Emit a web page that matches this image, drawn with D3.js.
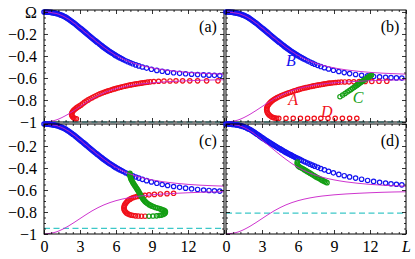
<!DOCTYPE html>
<html>
<head>
<meta charset="utf-8">
<script src="https://cdnjs.cloudflare.com/ajax/libs/d3/7.8.5/d3.min.js"></script>
<style>
  body { margin: 0; background: #fff; }
  svg { display: block; }
  svg text { font-family: "Liberation Serif", serif; }
</style>
</head>
<body>
<svg width="415" height="259"></svg>
<script>
// ---------------- data ----------------
// thin magenta reference curves (same in all four panels)
const magL = [0, 1, 2, 3, 4, 5, 6, 7, 8, 9, 10, 11, 12, 13, 14, 15];
const magUp = [0, -0.013, -0.062, -0.145, -0.236, -0.322, -0.395, -0.447, -0.483, -0.508, -0.526, -0.539, -0.549, -0.556, -0.561, -0.565];
const magLow = [-1, -0.982, -0.93, -0.86, -0.79, -0.735, -0.697, -0.672, -0.655, -0.644, -0.636, -0.63, -0.625, -0.621, -0.618, -0.616];

// blue branch B: dense head (L 0..6) and sparser tail
const headL = [0, 0.1, 0.2, 0.3, 0.4, 0.5, 0.6, 0.7, 0.8, 0.9, 1, 1.1, 1.2, 1.3, 1.4, 1.5, 1.6, 1.7, 1.8, 1.9,
  2, 2.1, 2.2, 2.3, 2.4, 2.5, 2.6, 2.7, 2.8, 2.9, 3, 3.1, 3.2, 3.3, 3.4, 3.5, 3.6, 3.7, 3.8, 3.9,
  4, 4.1, 4.2, 4.3, 4.4, 4.5, 4.6, 4.7, 4.8, 4.9, 5, 5.1, 5.2, 5.3, 5.4, 5.5, 5.6, 5.7, 5.8, 5.9, 6];
const blueHead = [0, 0, -0.001, -0.001, -0.002, -0.003, -0.004, -0.006, -0.008, -0.01, -0.013, -0.016, -0.019, -0.023, -0.027, -0.031, -0.036, -0.041, -0.047, -0.054,
  -0.062, -0.069, -0.077, -0.085, -0.093, -0.101, -0.11, -0.118, -0.127, -0.136, -0.145, -0.154, -0.163, -0.172, -0.181, -0.19, -0.2, -0.209, -0.218, -0.227,
  -0.236, -0.245, -0.254, -0.263, -0.272, -0.28, -0.289, -0.298, -0.306, -0.315, -0.323, -0.331, -0.339, -0.347, -0.354, -0.362, -0.369, -0.376, -0.383, -0.39, -0.397];
const blueHeadD = [0, 0, -0.001, -0.001, -0.002, -0.003, -0.004, -0.005, -0.007, -0.008, -0.01, -0.013, -0.016, -0.019, -0.022, -0.026, -0.03, -0.035, -0.04, -0.045,
  -0.05, -0.057, -0.064, -0.071, -0.078, -0.086, -0.093, -0.101, -0.108, -0.116, -0.124, -0.131, -0.138, -0.145, -0.152, -0.159, -0.166, -0.173, -0.18, -0.187,
  -0.194, -0.2, -0.207, -0.213, -0.22, -0.226, -0.233, -0.239, -0.245, -0.252, -0.258, -0.264, -0.27, -0.276, -0.281, -0.287, -0.293, -0.298, -0.304, -0.309, -0.314];
const tailL = [6.15, 6.3, 6.45, 6.6, 6.8, 7.0, 7.2, 7.4, 7.65, 7.9, 8.2, 8.55, 8.95, 9.4, 9.85, 10.3, 10.8, 11.3, 11.8, 12.3, 12.8, 13.3, 13.75, 14.2, 14.65];
const blueTailA = [-0.406, -0.415, -0.423, -0.432, -0.443, -0.453, -0.462, -0.471, -0.481, -0.49, -0.5, -0.51, -0.521, -0.531, -0.539, -0.547, -0.553, -0.558, -0.562, -0.566, -0.569, -0.572, -0.574, -0.576, -0.578];
const blueTailB = [-0.406, -0.415, -0.424, -0.433, -0.444, -0.455, -0.465, -0.475, -0.486, -0.496, -0.507, -0.518, -0.53, -0.541, -0.551, -0.56, -0.568, -0.575, -0.581, -0.586, -0.59, -0.594, -0.597, -0.599, -0.601];
const blueTailC = [-0.406, -0.415, -0.423, -0.432, -0.443, -0.453, -0.462, -0.471, -0.482, -0.492, -0.503, -0.515, -0.527, -0.539, -0.55, -0.559, -0.568, -0.576, -0.583, -0.589, -0.595, -0.6, -0.604, -0.607, -0.61];
const blueTailD = [-0.322, -0.33, -0.338, -0.345, -0.355, -0.365, -0.374, -0.383, -0.394, -0.405, -0.417, -0.43, -0.444, -0.458, -0.47, -0.481, -0.492, -0.502, -0.513, -0.522, -0.53, -0.537, -0.543, -0.548, -0.553];

// red branch in (a)
const redA = [[2.7, -0.97], [2.58, -0.968], [2.47, -0.962], [2.38, -0.953], [2.32, -0.942], [2.3, -0.93], [2.33, -0.917], [2.39, -0.905],
  [2.47, -0.894], [2.57, -0.884], [2.68, -0.874], [2.8, -0.865], [2.93, -0.856], [3.07, -0.847], [3.21, -0.834], [3.36, -0.822],
  [3.52, -0.81], [3.68, -0.799], [3.84, -0.789], [4.0, -0.779], [4.16, -0.77], [4.33, -0.761], [4.5, -0.752], [4.67, -0.744],
  [4.84, -0.737], [5.01, -0.73], [5.18, -0.723], [5.35, -0.717], [5.52, -0.711], [5.69, -0.705], [5.86, -0.699], [6.03, -0.694],
  [6.2, -0.689], [6.37, -0.684], [6.54, -0.679], [6.71, -0.675], [6.88, -0.671], [7.05, -0.667], [7.22, -0.663], [7.39, -0.659],
  [7.56, -0.656], [7.73, -0.653], [7.9, -0.65], [8.07, -0.647], [8.24, -0.644], [8.42, -0.641], [8.62, -0.638], [8.85, -0.635],
  [9.15, -0.632], [9.55, -0.63], [10.0, -0.628], [10.5, -0.627], [11.0, -0.626], [11.55, -0.626], [12.15, -0.626], [12.8, -0.626],
  [13.55, -0.626], [14.5, -0.626]];

// branches A, D and C in (b)
const redB = [[4.22, -0.966], [4.08, -0.964], [3.95, -0.96], [3.82, -0.954], [3.7, -0.946], [3.6, -0.936], [3.51, -0.925], [3.45, -0.913],
  [3.41, -0.9], [3.39, -0.887], [3.4, -0.874], [3.44, -0.861], [3.5, -0.848], [3.58, -0.836], [3.67, -0.825], [3.77, -0.814],
  [3.88, -0.804], [4.0, -0.795], [4.13, -0.786], [4.27, -0.778], [4.42, -0.77], [4.58, -0.762], [4.74, -0.755], [4.9, -0.748],
  [5.06, -0.741], [5.22, -0.735], [5.38, -0.729], [5.54, -0.723], [5.7, -0.717], [5.86, -0.711], [6.02, -0.706], [6.18, -0.701],
  [6.34, -0.696], [6.5, -0.692], [6.66, -0.688], [6.82, -0.684], [6.98, -0.68], [7.14, -0.676], [7.3, -0.672], [7.46, -0.668],
  [7.62, -0.665], [7.78, -0.662], [7.94, -0.659], [8.1, -0.656], [8.26, -0.653], [8.42, -0.65], [8.58, -0.647], [8.75, -0.645],
  [8.93, -0.643], [9.13, -0.641], [9.35, -0.639], [9.6, -0.637], [9.9, -0.636], [10.25, -0.635], [10.65, -0.634], [11.1, -0.633],
  [11.6, -0.632], [12.15, -0.631], [12.75, -0.63], [13.4, -0.63]];
const redD = [[4.4, -0.966], [5.0, -0.966], [5.6, -0.966], [6.2, -0.966], [6.8, -0.966], [7.35, -0.966], [7.9, -0.966], [8.5, -0.966],
  [9.1, -0.966], [9.7, -0.966], [10.3, -0.966], [10.9, -0.966]];
const greenB = [[9.5, -0.77], [9.72, -0.755], [9.92, -0.741], [10.1, -0.728], [10.26, -0.716], [10.41, -0.705], [10.55, -0.694],
  [10.68, -0.684], [10.8, -0.674], [10.92, -0.665], [11.03, -0.656], [11.14, -0.647], [11.25, -0.639], [11.35, -0.631], [11.45, -0.623],
  [11.55, -0.616], [11.64, -0.609], [11.73, -0.602], [11.82, -0.596], [11.9, -0.59], [11.98, -0.584], [12.06, -0.578], [12.13, -0.573]];

// loop in (c)
const redC = [[10.8, -0.63], [10.25, -0.633], [9.7, -0.636], [9.2, -0.64], [8.75, -0.644], [8.4, -0.648], [8.15, -0.651], [7.95, -0.654],
  [7.77, -0.658], [7.6, -0.663], [7.45, -0.668], [7.31, -0.675], [7.18, -0.683], [7.06, -0.692], [6.95, -0.702], [6.86, -0.713],
  [6.78, -0.725], [6.72, -0.737], [6.68, -0.749], [6.66, -0.762], [6.67, -0.775], [6.71, -0.787], [6.78, -0.798], [6.87, -0.808],
  [6.98, -0.816], [7.11, -0.823], [7.25, -0.828], [7.42, -0.832], [7.62, -0.835], [7.85, -0.837], [8.12, -0.838], [8.42, -0.838]];
const greenC = [[8.75, -0.838], [9.08, -0.837], [9.38, -0.835], [9.6, -0.832], [9.78, -0.828], [9.92, -0.823], [10.03, -0.816],
  [10.1, -0.808], [10.12, -0.8], [10.09, -0.792], [10.0, -0.785], [9.88, -0.779], [9.74, -0.774], [9.6, -0.769], [9.45, -0.764],
  [9.3, -0.759], [9.15, -0.753], [9.01, -0.747], [8.88, -0.74], [8.76, -0.733], [8.65, -0.725], [8.55, -0.717], [8.46, -0.708],
  [8.38, -0.699], [8.3, -0.689], [8.23, -0.679], [8.17, -0.669], [8.11, -0.659], [8.06, -0.649], [8.01, -0.639], [7.96, -0.629],
  [7.91, -0.619], [7.86, -0.609], [7.8, -0.599], [7.74, -0.589], [7.68, -0.579], [7.62, -0.569], [7.56, -0.559], [7.5, -0.549],
  [7.44, -0.539], [7.39, -0.529], [7.34, -0.519], [7.29, -0.509], [7.25, -0.499], [7.22, -0.489], [7.19, -0.479], [7.17, -0.469],
  [7.16, -0.459], [7.16, -0.449]];

// short green branch in (d)
const greenD = [[5.95, -0.345], [5.94, -0.356], [5.95, -0.367], [5.99, -0.377], [6.07, -0.386], [6.17, -0.393], [6.28, -0.4],
  [6.4, -0.407], [6.52, -0.415], [6.64, -0.423], [6.76, -0.431], [6.88, -0.439], [7.0, -0.447], [7.12, -0.455], [7.24, -0.463],
  [7.36, -0.471], [7.48, -0.479], [7.6, -0.487], [7.72, -0.494], [7.84, -0.501], [7.96, -0.508], [8.08, -0.515], [8.2, -0.522],
  [8.32, -0.528], [8.42, -0.533]];

// dashed cyan levels for (a) (b) (c) (d)
const dashLevels = [-1, -1, -0.948, -0.81];

// ticks
const xMajor = [0, 3, 6, 9, 12, 15];
const xLabels = ["0", "3", "6", "9", "12", ""];
const yMajor = [0, -0.2, -0.4, -0.6, -0.8, -1];
const yLabelsTop = ["\u03A9", "\u22120.2", "\u22120.4", "\u22120.6", "\u22120.8", "\u22121"];
const yLabelsBot = ["", "\u22120.2", "\u22120.4", "\u22120.6", "\u22120.8", "\u22121"];
// ------------------------------------------------------------

const BLUE = "#1414f0", RED = "#f0101a", GREEN = "#149e14", MAGENTA = "#c81ec8", CYAN = "#3cc8c8";
const FONT = "'Liberation Serif', serif";

const svg = d3.select("svg");

const xLeft = d3.scaleLinear().domain([0, 15]).range([44, 224]);
const xRight = d3.scaleLinear().domain([0, 15]).range([226, 406]);
const yTop = d3.scaleLinear().domain([-1, 0.018]).range([122, 10]);
const yBot = d3.scaleLinear().domain([-1, 0]).range([234, 124]);

const xMinor = d3.range(0, 15.01, 0.6).map(v => +v.toFixed(2)).filter(v => v % 3 !== 0);
const yMinor = d3.range(0, -1.001, -0.05).map(v => +v.toFixed(2)).filter(v => Math.round(v * 100) % 20 !== 0);

const headPts = d3.zip(headL, blueHead);
const panels = [
  { name: "(a)", x: xLeft, y: yTop, blue: headPts.concat(d3.zip(tailL, blueTailA)), dash: dashLevels[0], left: true, bottom: false,
    series: [{ pts: redA, color: RED }] },
  { name: "(b)", x: xRight, y: yTop, blue: headPts.concat(d3.zip(tailL, blueTailB)), dash: dashLevels[1], left: false, bottom: false,
    series: [{ pts: redB, color: RED }, { pts: redD, color: RED }, { pts: greenB, color: GREEN }],
    notes: [{ t: "A", L: 5.6, w: -0.8, c: RED }, { t: "B", L: 5.4, w: -0.44, c: BLUE },
            { t: "C", L: 11.0, w: -0.78, c: GREEN }, { t: "D", L: 8.4, w: -0.905, c: RED }] },
  { name: "(c)", x: xLeft, y: yBot, blue: headPts.concat(d3.zip(tailL, blueTailC)), dash: dashLevels[2], left: true, bottom: true,
    series: [{ pts: redC, color: RED }, { pts: greenC, color: GREEN }] },
  { name: "(d)", x: xRight, y: yBot, blue: d3.zip(headL, blueHeadD).concat(d3.zip(tailL, blueTailD)), dash: dashLevels[3],
    left: false, bottom: true, lastL: true,
    series: [{ pts: greenD, color: GREEN }] }
];

function markers(g, pts, x, y, color) {
  g.append("g").selectAll("circle")
    .data(pts)
    .enter().append("circle")
    .attr("cx", d => x(d[0])).attr("cy", d => y(d[1]))
    .attr("r", 2.2).attr("fill", "none")
    .attr("stroke", color).attr("stroke-width", 1.2);
}

function drawPanel(p) {
  const g = svg.append("g");
  const x = p.x, y = p.y;
  const [x0, x1] = x.range();
  const [y1, y0] = y.range();

  // dashed level
  g.append("line")
    .attr("x1", x0).attr("x2", x1)
    .attr("y1", y(p.dash)).attr("y2", y(p.dash))
    .attr("stroke", CYAN).attr("stroke-width", 1.2)
    .attr("stroke-dasharray", "6,3.5");

  markers(g, p.blue, x, y, BLUE);
  p.series.forEach(s => markers(g, s.pts, x, y, s.color));

  // magenta curves on top
  const line = d3.line().x(d => x(d[0])).y(d => y(d[1])).curve(d3.curveMonotoneX);
  [magUp, magLow].forEach(arr => {
    g.append("path")
      .datum(d3.zip(magL, arr))
      .attr("d", line)
      .attr("fill", "none")
      .attr("stroke", MAGENTA).attr("stroke-width", 0.9);
  });

  // frame
  g.append("rect")
    .attr("x", x0).attr("y", y0)
    .attr("width", x1 - x0).attr("height", y1 - y0)
    .attr("fill", "none").attr("stroke", "#000").attr("stroke-width", 1);

  // ticks, all pointing inward
  const axes = [
    { ax: d3.axisBottom, t: y1, s: x, major: xMajor, minor: xMinor, h: true },
    { ax: d3.axisTop, t: y0, s: x, major: xMajor, minor: xMinor, h: true },
    { ax: d3.axisLeft, t: x0, s: y, major: yMajor, minor: yMinor, h: false },
    { ax: d3.axisRight, t: x1, s: y, major: yMajor, minor: yMinor, h: false }
  ];
  axes.forEach(a => {
    const tr = a.h ? `translate(0,${a.t})` : `translate(${a.t},0)`;
    g.append("g").attr("transform", tr)
      .call(a.ax(a.s).tickValues(a.major).tickSize(-4).tickFormat(""))
      .call(sel => sel.select(".domain").remove());
    g.append("g").attr("transform", tr)
      .call(a.ax(a.s).tickValues(a.minor).tickSize(-2).tickFormat(""))
      .call(sel => sel.select(".domain").remove());
  });
  g.selectAll(".tick line").attr("stroke", "#000").attr("stroke-width", 0.8);

  // tick labels
  if (p.left) {
    const labels = y === yTop ? yLabelsTop : yLabelsBot;
    g.append("g").attr("transform", `translate(${x0},0)`)
      .call(d3.axisLeft(y).tickValues(yMajor).tickSize(0).tickPadding(7)
        .tickFormat((d, i) => labels[i]))
      .call(sel => sel.select(".domain").remove())
      .selectAll("text")
      .style("font-family", FONT)
      .attr("font-size", 16).attr("fill", "#000");
  }
  if (p.bottom) {
    g.append("g").attr("transform", `translate(0,${y1})`)
      .call(d3.axisBottom(x).tickValues(xMajor).tickSize(0).tickPadding(7)
        .tickFormat((d, i) => (d === 15 && p.lastL) ? "L" : xLabels[i]))
      .call(sel => sel.select(".domain").remove())
      .selectAll("text")
      .style("font-family", FONT)
      .attr("font-size", 16).attr("fill", "#000")
      .attr("font-style", d => d === 15 ? "italic" : null);
  }

  // panel tag
  g.append("text")
    .attr("x", x1 - 16).attr("y", y0 + 16)
    .attr("text-anchor", "middle").attr("dominant-baseline", "central")
    .style("font-family", FONT)
    .attr("font-size", 16)
    .text(p.name);

  // branch names
  (p.notes || []).forEach(n => {
    g.append("text")
      .attr("x", x(n.L)).attr("y", y(n.w))
      .attr("text-anchor", "middle").attr("dominant-baseline", "central")
      .style("font-family", FONT)
      .attr("font-size", 16).attr("font-style", "italic")
      .attr("fill", n.c)
      .text(n.t);
  });
}

panels.forEach(drawPanel);
</script>
</body>
</html>
